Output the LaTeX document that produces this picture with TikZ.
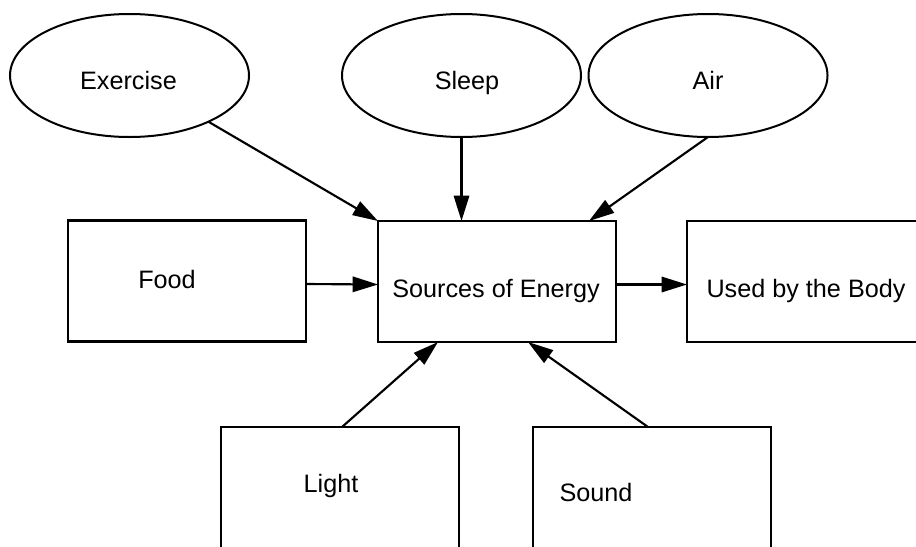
\documentclass[tikz,border=0pt]{standalone}
\usepackage{fontspec}
\setmainfont{Liberation Sans}
\usetikzlibrary{shapes.geometric,arrows.meta,calc}
\begin{document}
\begin{tikzpicture}[x=0.75pt,y=-0.75pt,
  oval/.style={ellipse,draw,line width=1.5pt,inner sep=0pt,outer sep=0pt,
    minimum width=179.25pt,minimum height=92.25pt},
  box/.style={rectangle,draw,line width=1.7pt,inner sep=0pt,outer sep=0pt,
    minimum width=178.5pt,minimum height=90.75pt},
  txt/.style={anchor=base,inner sep=0pt,font=\fontsize{18.9}{22}\selectfont},
  link/.style={line width=1.6pt,-{Triangle[length=19pt,width=11.5pt]}}]
\useasboundingbox (0,0) rectangle (916,546);

% ellipses on the top row
\node[oval] (ex) at (129.5,75.5) {};
\node[oval] (sl) at (461.5,75.5) {};
\node[oval] (air) at (708,75.5) {};

% boxes
\node[box] (food) at (187,281) {};
\node[box] (src) at (497,281.5) {};
\node[box] (body) at (806,281.5) {};
\node[box] (light) at (340,487.5) {};
\node[box] (sound) at (652,487.5) {};

% labels
\node[txt] (tex) at (128.5,89) {Exercise};
\node[txt] (tsl) at (467,89) {Sleep};
\node[txt] (tair) at (708,89) {Air};
\node[txt] (tfood) at (167,288) {Food};
\node[txt] (tsrc) at (496,297) {Sources of Energy};
\node[txt] (tbody) at (806,297) {Used by the Body};
\node[txt] (tlight) at (331,492) {Light};
\node[txt] (tsound) at (596,501) {Sound};

% connectors
\draw[link] (ex) -- (src.north west);
\draw[link] (sl.south) -- (sl.south |- src.north);
\draw[link] (air.south) -- ($(src.north east)+(-27,0)$);
\draw[link] ($(food.east)+(0,3)$) -- ($(src.west)+(0,3)$);
\draw[link] ($(src.east)+(0,3)$) -- ($(body.west)+(0,3)$);
\draw[link] ($(light.north)+(2,0)$) -- ($(src.south)+(-59,0)$);
\draw[link] ($(sound.north)+(-4,0)$) -- ($(src.south)+(31,0)$);
\end{tikzpicture}
\end{document}
